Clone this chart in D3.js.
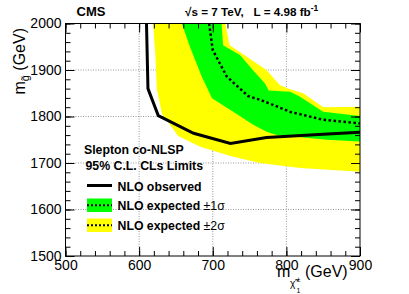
<!DOCTYPE html>
<html><head><meta charset="utf-8">
<script src="https://cdn.jsdelivr.net/npm/d3@7"></script>
<style>
body{margin:0;background:#fff;}
text{font-family:"Liberation Sans",Arial,Helvetica,sans-serif;white-space:pre;}
</style></head>
<body><svg id="c" width="409" height="294"></svg>
<script>
// ---- data (GeV) ----
const obsX = [610, 612, 626, 674, 724, 773, 850, 900];
const obsY = [2000, 1860, 1802, 1764, 1742, 1755, 1762, 1766];
const expX = [695, 700, 719, 748, 764, 782, 805, 850, 900];
const expY = [2000, 1943, 1886, 1844, 1836, 1825, 1810, 1793, 1785];
const g1UpX = [712, 714, 737, 755, 771, 776, 805, 818, 850, 900];
const g1UpY = [2000, 1953, 1932, 1899, 1871, 1856, 1853, 1843, 1810, 1801];
const g1LoX = [658, 669, 685, 699, 724, 755, 773, 787, 855, 900];
const g1LoY = [2000, 1950, 1886, 1839, 1814, 1782, 1767, 1760, 1750, 1746];
const g2UpX = [717, 723, 773, 791, 801, 823, 850, 900];
const g2UpY = [2000, 1953, 1900, 1868, 1861, 1850, 1820, 1821];
const g2LoX = [619, 622, 624, 631, 653, 683, 724, 764, 819, 900];
const g2LoY = [2000, 1932, 1860, 1806, 1758, 1735, 1715, 1700, 1689, 1681];
const xTicks = [500, 600, 700, 800, 900];
const yTicks = [1500, 1600, 1700, 1800, 1900, 2000];

const L = 65.5, R = 360, T = 23.5, B = 256;
const x = d3.scaleLinear().domain([500, 900]).range([L, R]);
const y = d3.scaleLinear().domain([1500, 2000]).range([B, T]);
const svg = d3.select("#c");

const zip = (a, b) => a.map((v, i) => [v, b[i]]);
const line = d3.line().x(d => x(d[0])).y(d => y(d[1]));

svg.append("defs").append("clipPath").attr("id", "clip")
  .append("rect").attr("x", L).attr("y", T).attr("width", R - L).attr("height", B - T);

// grid
const grid = svg.append("g").attr("stroke", "#999").attr("stroke-width", 1).attr("stroke-dasharray", "1,1.5");
xTicks.slice(1, -1).forEach(v => grid.append("line").attr("x1", x(v)).attr("x2", x(v)).attr("y1", T).attr("y2", B));
yTicks.slice(1, -1).forEach(v => grid.append("line").attr("x1", L).attr("x2", R).attr("y1", y(v)).attr("y2", y(v)));

const plot = svg.append("g").attr("clip-path", "url(#clip)");
const band = (loX, loY, upX, upY) => zip(loX, loY).concat(zip(upX, upY).reverse());
plot.append("path").attr("d", line(band(g2LoX, g2LoY, g2UpX, g2UpY)) + "Z").attr("fill", "#ffff00");
plot.append("path").attr("d", line(band(g1LoX, g1LoY, g1UpX, g1UpY)) + "Z").attr("fill", "#00ff00");
plot.append("path").attr("d", line(zip(expX, expY))).attr("fill", "none")
  .attr("stroke", "#000").attr("stroke-width", 2.5).attr("stroke-dasharray", "2.5,2.5");
plot.append("path").attr("d", line(zip(obsX, obsY))).attr("fill", "none")
  .attr("stroke", "#000").attr("stroke-width", 3);

// axes
const minorX = d3.range(500, 901, 20), minorY = d3.range(1500, 2001, 20);
function ax(gen, tr, vals, size, labels) {
  const g = svg.append("g").attr("transform", tr)
    .call(gen.tickValues(vals).tickSizeInner(size).tickSizeOuter(0).tickPadding(4)
      .tickFormat(labels ? d3.format("d") : ""));
  g.select(".domain").remove();
  g.selectAll("text").attr("font-size", 14).attr("fill", "#000");
  g.selectAll("line").attr("stroke", "#000");
  return g;
}
const gx = ax(d3.axisBottom(x), `translate(0,${B})`, xTicks, -9, true);
gx.selectAll("text").attr("dy", "0.71em").attr("y", 4);
ax(d3.axisBottom(x), `translate(0,${B})`, minorX, -5, false);
ax(d3.axisTop(x), `translate(0,${T})`, xTicks, -9, false);
ax(d3.axisTop(x), `translate(0,${T})`, minorX, -5, false);
ax(d3.axisLeft(y), `translate(${L},0)`, yTicks, -9, true);
ax(d3.axisLeft(y), `translate(${L},0)`, minorY, -5, false);
ax(d3.axisRight(y), `translate(${R},0)`, yTicks, -9, false);
ax(d3.axisRight(y), `translate(${R},0)`, minorY, -5, false);
svg.append("rect").attr("x", L).attr("y", T).attr("width", R - L).attr("height", B - T)
  .attr("fill", "none").attr("stroke", "#000").attr("stroke-width", 1);

// titles
svg.append("text").attr("x", 76.5).attr("y", 16).attr("font-size", 13).attr("font-weight", "bold").text("CMS");
const t2 = svg.append("text").attr("x", 185).attr("y", 16).attr("font-size", 11.7).attr("font-weight", "bold");
t2.append("tspan").text("\u221As = 7 TeV,\u00A0\u00A0\u00A0L = 4.98 fb");
t2.append("tspan").attr("font-size", 8.5).attr("dy", -5).text("-1");

// y axis title
const yt = svg.append("text").attr("transform", "translate(24.5,28) rotate(-90)")
  .attr("text-anchor", "end").attr("font-size", 16);
yt.append("tspan").text("m");
yt.append("tspan").attr("font-size", 11).attr("dy", 4).text("g\u0303");
yt.append("tspan").attr("dy", -4).text(" (GeV)");

// x axis title
svg.append("text").attr("x", 277).attr("y", 277).attr("font-size", 16).text("m");
svg.append("text").attr("x", 290).attr("y", 286.5).attr("font-size", 10).text("\u03C7\u0303");
svg.append("text").attr("x", 296.5).attr("y", 281.5).attr("font-size", 7).text("\u00B1");
svg.append("text").attr("x", 296.5).attr("y", 292.5).attr("font-size", 7).text("1");
svg.append("text").attr("x", 305).attr("y", 277).attr("font-size", 16).text("(GeV)");

// legend
const lg = svg.append("g").attr("font-size", 12.3).attr("font-weight", "bold");
lg.append("text").attr("x", 84).attr("y", 154).text("Slepton co-NLSP");
lg.append("text").attr("x", 85.5).attr("y", 170).text("95% C.L. CLs Limits");
lg.append("line").attr("x1", 87).attr("x2", 112).attr("y1", 185.5).attr("y2", 185.5).attr("stroke", "#000").attr("stroke-width", 3);
lg.append("text").attr("x", 117.5).attr("y", 190.5).text("NLO observed");
[["#00ff00", 198.5, "1"], ["#ffff00", 218.5, "2"]].forEach(([c, yy, n]) => {
  lg.append("rect").attr("x", 87).attr("y", yy).attr("width", 25).attr("height", 13.5).attr("fill", c);
  lg.append("line").attr("x1", 87).attr("x2", 112).attr("y1", yy + 6.75).attr("y2", yy + 6.75)
    .attr("stroke", "#000").attr("stroke-width", 2).attr("stroke-dasharray", "2,2");
  const t = lg.append("text").attr("x", 117.5).attr("y", yy + 11.5).text("NLO expected ");
  t.append("tspan").attr("font-weight", "normal").text("\u00B1" + n + "\u03C3");
});
</script></body></html>
